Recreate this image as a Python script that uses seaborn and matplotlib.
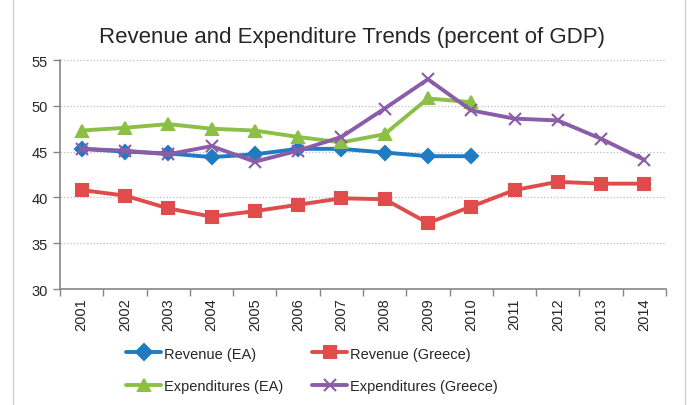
import pandas as pd
import seaborn as sns
import matplotlib.pyplot as plt
from matplotlib.lines import Line2D
from matplotlib.ticker import MultipleLocator, FixedLocator, NullFormatter

sns.set_style('white')
plt.rcParams['font.family'] = ['Liberation Sans', 'DejaVu Sans']

years = list(range(2001, 2015))
revenue_ea = [45.3, 45.0, 44.8, 44.4, 44.7, 45.3, 45.3, 44.9, 44.5, 44.5]
revenue_gr = [40.8, 40.2, 38.8, 37.9, 38.5, 39.2, 39.9, 39.8, 37.2, 39.0, 40.8, 41.7, 41.5, 41.5]
expend_ea = [47.3, 47.6, 48.0, 47.5, 47.3, 46.6, 46.0, 46.9, 50.8, 50.4]
expend_gr = [45.3, 45.1, 44.7, 45.6, 43.9, 45.1, 46.6, 49.7, 52.9, 49.5, 48.6, 48.4, 46.4, 44.1]

labels = ['Revenue (EA)', 'Revenue (Greece)', 'Expenditures (EA)', 'Expenditures (Greece)']
series = [revenue_ea, revenue_gr, expend_ea, expend_gr]

colors = {'Revenue (EA)': '#1f7bc2', 'Revenue (Greece)': '#e04b4b',
          'Expenditures (EA)': '#8cbf45', 'Expenditures (Greece)': '#8b5ca8'}
markers = {'Revenue (EA)': 'D', 'Revenue (Greece)': 's',
           'Expenditures (EA)': '^', 'Expenditures (Greece)': 'x'}
msizes = {'Revenue (EA)': 7, 'Revenue (Greece)': 9,
          'Expenditures (EA)': 9, 'Expenditures (Greece)': 9}

fig = plt.figure(figsize=(6.89, 4.06), dpi=100)
ax = fig.add_axes([60 / 689, 1 - 290 / 406, 606 / 689, 229 / 406])

# draw each series (filled and line-art markers can't be mixed in one call)
for lab, vals in zip(labels, series):
    d = pd.DataFrame({'year': years[:len(vals)], 'value': vals})
    sns.lineplot(data=d, x='year', y='value', color=colors[lab], marker=markers[lab],
                 linewidth=2.8, markersize=msizes[lab], markeredgewidth=1.5,
                 markeredgecolor=colors[lab], ax=ax, label=lab, legend=False)

ax.set_xlim(2000.5, 2014.5)
ax.set_ylim(30, 55)
ax.yaxis.set_major_locator(MultipleLocator(5))
ax.set_xticks(years)
ax.set_xticklabels([str(y) for y in years], rotation=90, fontsize=10.5)
ax.xaxis.set_minor_locator(FixedLocator([y + 0.5 for y in range(2000, 2015)]))
ax.xaxis.set_minor_formatter(NullFormatter())
ax.tick_params(axis='x', which='major', length=0, pad=6)
ax.tick_params(axis='x', which='minor', length=5, color='#868686', width=1, direction='out', bottom=True)
ax.tick_params(axis='y', length=5, color='#868686', width=1, direction='out', left=True, labelsize=10.5, pad=4)
ax.set_xlabel('')
ax.set_ylabel('')

ax.grid(axis='y', linestyle=':', color='#bdbdbd', linewidth=0.9)
ax.set_axisbelow(True)
for s in ['top', 'right']:
    ax.spines[s].set_visible(False)
for s in ['left', 'bottom']:
    ax.spines[s].set_color('#868686')
    ax.spines[s].set_linewidth(1.2)

fig.text(352 / 689, 1 - 37 / 406, 'Revenue and Expenditure Trends (percent of GDP)',
         ha='center', va='center', fontsize=16)

# legend fills column-wise, so order so rows read Revenue / Expenditures
order = [0, 2, 1, 3]
handles = [Line2D([0], [0], color=colors[labels[i]], marker=markers[labels[i]], linewidth=2.8,
                  markersize=8, markeredgewidth=1.5) for i in order]
fig.legend(handles, [labels[i] for i in order], loc='center left',
           bbox_to_anchor=(113 / 689, 1 - 371 / 406),
           ncol=2, frameon=False, fontsize=10.5, handlelength=2.4,
           columnspacing=2.0, labelspacing=1.3, handletextpad=0.2)

# chart frame
fig.add_artist(Line2D([13 / 689, 13 / 689], [0, 1], color='#d0d0d0', linewidth=1))
fig.add_artist(Line2D([685 / 689, 685 / 689], [0, 1], color='#d0d0d0', linewidth=1))

fig.savefig('out.png', dpi=100)
